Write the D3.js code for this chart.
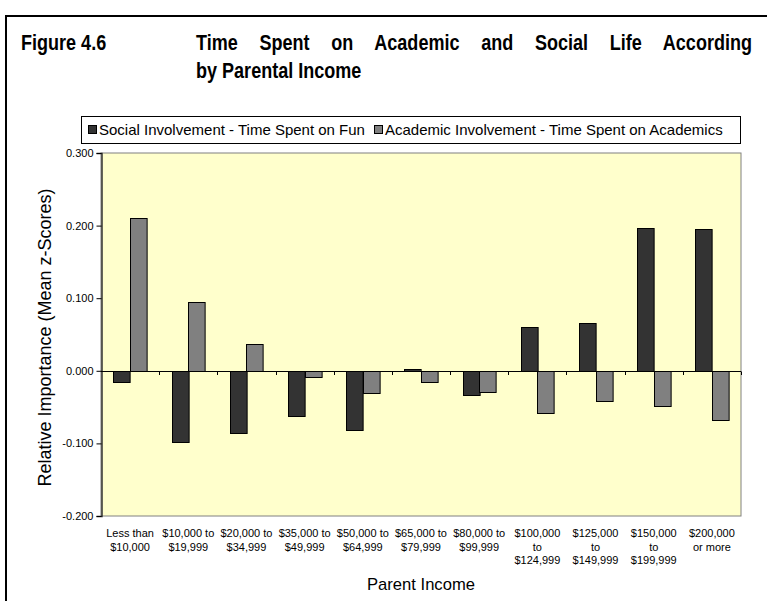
<!DOCTYPE html>
<html>
<head>
<meta charset="utf-8">
<script src="https://cdn.jsdelivr.net/npm/d3@7"></script>
<style>
  html, body { margin: 0; padding: 0; background: #ffffff; }
  svg { display: block; }
</style>
</head>
<body>
<svg id="chart" width="767" height="601"></svg>
<script>
// ---- data ----
const categories = [
  ["Less than", "$10,000"],
  ["$10,000 to", "$19,999"],
  ["$20,000 to", "$34,999"],
  ["$35,000 to", "$49,999"],
  ["$50,000 to", "$64,999"],
  ["$65,000 to", "$79,999"],
  ["$80,000 to", "$99,999"],
  ["$100,000", "to", "$124,999"],
  ["$125,000", "to", "$149,999"],
  ["$150,000", "to", "$199,999"],
  ["$200,000", "or more"]
];
const seriesNames = [
  "Social Involvement - Time Spent on Fun",
  "Academic Involvement - Time Spent on Academics"
];
const socialValues   = [-0.015, -0.098, -0.085, -0.062, -0.081, 0.003, -0.034, 0.061, 0.066, 0.197, 0.195];
const academicValues = [ 0.210,  0.095,  0.037, -0.009, -0.031, -0.016, -0.029, -0.058, -0.042, -0.048, -0.068];
const yTicks = [-0.2, -0.1, 0, 0.1, 0.2, 0.3];
const titleLabel = "Figure 4.6";
const titleLines = ["Time Spent on Academic and Social Life According", "by Parental Income"];
const yAxisTitle = "Relative Importance (Mean z-Scores)";
const xAxisTitle = "Parent Income";

// ---- layout ----
const svg = d3.select("#chart");
const plot = {left: 101, right: 741, top: 153, bottom: 516};
const colors = ["#333333", "#808080"];
const sans = "Arial, 'Liberation Sans', Helvetica, sans-serif";

// outer frame
svg.append("rect").attr("x", 6).attr("y", 16).attr("width", 800).attr("height", 700)
  .attr("fill", "none").attr("stroke", "#000").attr("stroke-width", 2);

// title (condensed bold, like Arial Narrow Bold)
const tSize = 22, squeeze = 0.82;
function titleText(x, yy, str) {
  return svg.append("text")
    .attr("transform", `translate(${x},${yy}) scale(${squeeze},1)`)
    .attr("font-family", sans).attr("font-weight", "bold").attr("font-size", tSize)
    .attr("fill", "#000").text(str);
}
titleText(21, 50, titleLabel);
const t1 = titleText(196, 50, titleLines[0]);
{
  const target = (752 - 196) / squeeze;
  const len = t1.node().getComputedTextLength();
  const spaces = (titleLines[0].match(/ /g) || []).length;
  if (len < target && spaces > 0) t1.attr("word-spacing", (target - len) / spaces);
}
titleText(196, 78, titleLines[1]);

// legend
svg.append("rect").attr("x", 81.5).attr("y", 116.5).attr("width", 659).attr("height", 27)
  .attr("fill", "#fff").attr("stroke", "#000").attr("stroke-width", 1);
const legendX = [88, 374];
seriesNames.forEach((name, i) => {
  svg.append("rect").attr("x", legendX[i] + 0.5).attr("y", 125.5).attr("width", 8).attr("height", 8)
    .attr("fill", colors[i]).attr("stroke", "#000").attr("stroke-width", 1);
  svg.append("text").attr("x", legendX[i] + 11).attr("y", 135)
    .attr("font-family", sans).attr("font-size", 15).attr("fill", "#000")
    .text(name);
});

// scales
const y = d3.scaleLinear().domain([-0.2, 0.3]).range([plot.bottom, plot.top]);
const x0 = d3.scaleBand().domain(d3.range(categories.length)).range([plot.left, plot.right]).padding(0);
const bw = x0.bandwidth();
const gapHalf = bw * 0.75 / 3.5;
const x1 = d3.scaleBand().domain([0, 1]).range([gapHalf, bw - gapHalf]).padding(0);

// plot background
svg.append("rect").attr("x", plot.left).attr("y", plot.top)
  .attr("width", plot.right - plot.left).attr("height", plot.bottom - plot.top)
  .attr("fill", "#FFFFCC").attr("stroke", "#808080").attr("stroke-width", 1);

// bars
const seriesValues = [socialValues, academicValues];
seriesValues.forEach((vals, s) => {
  svg.append("g").selectAll("rect").data(vals).join("rect")
    .attr("x", (d, i) => Math.round(x0(i) + x1(s)) + 0.5)
    .attr("y", d => Math.round(y(Math.max(0, d))) + 0.5)
    .attr("width", x1.bandwidth())
    .attr("height", d => Math.max(0.5, Math.abs(Math.round(y(d)) - Math.round(y(0)))))
    .attr("fill", colors[s]).attr("stroke", "#000").attr("stroke-width", 1);
});

// y axis
const fmt = d3.format(".3f");
const yAxis = d3.axisLeft(y).tickValues(yTicks)
  .tickFormat(d => fmt(d).replace("\u2212", "-")).tickSize(5).tickPadding(3);
const gy = svg.append("g").attr("transform", `translate(${plot.left + 0.5},0)`).call(yAxis);
gy.select(".domain").attr("stroke", "#333").attr("stroke-width", 1.5);
gy.selectAll(".tick line").attr("stroke", "#000");
gy.selectAll(".tick text").attr("font-family", sans).attr("font-size", 11).attr("fill", "#000");

// x axis at zero
const boundaries = d3.range(categories.length + 1).map(i => plot.left + i * bw);
svg.append("line").attr("x1", plot.left).attr("x2", plot.right)
  .attr("y1", Math.round(y(0)) + 0.5).attr("y2", Math.round(y(0)) + 0.5)
  .attr("stroke", "#000").attr("stroke-width", 1);
svg.append("g").selectAll("line").data(boundaries.slice(1)).join("line")
  .attr("x1", d => Math.round(d) + 0.5).attr("x2", d => Math.round(d) + 0.5)
  .attr("y1", Math.round(y(0)) + 0.5).attr("y2", Math.round(y(0)) + 4)
  .attr("stroke", "#000").attr("stroke-width", 1);

// x tick labels (low position)
const xl = svg.append("g");
categories.forEach((lines, i) => {
  const t = xl.append("text").attr("text-anchor", "middle")
    .attr("font-family", sans).attr("font-size", 11).attr("fill", "#000");
  lines.forEach((ln, j) => {
    t.append("tspan").attr("x", x0(i) + bw / 2).attr("y", 537 + j * 13.5).text(ln);
  });
});

// axis titles
svg.append("text").attr("text-anchor", "middle")
  .attr("transform", `translate(51,${(plot.top + plot.bottom) / 2 + 3}) rotate(-90)`)
  .attr("font-family", sans).attr("font-size", 18).attr("fill", "#000")
  .text(yAxisTitle);
svg.append("text").attr("text-anchor", "middle")
  .attr("x", (plot.left + plot.right) / 2).attr("y", 590)
  .attr("font-family", sans).attr("font-size", 16.6).attr("fill", "#000")
  .text(xAxisTitle);
</script>
</body>
</html>
